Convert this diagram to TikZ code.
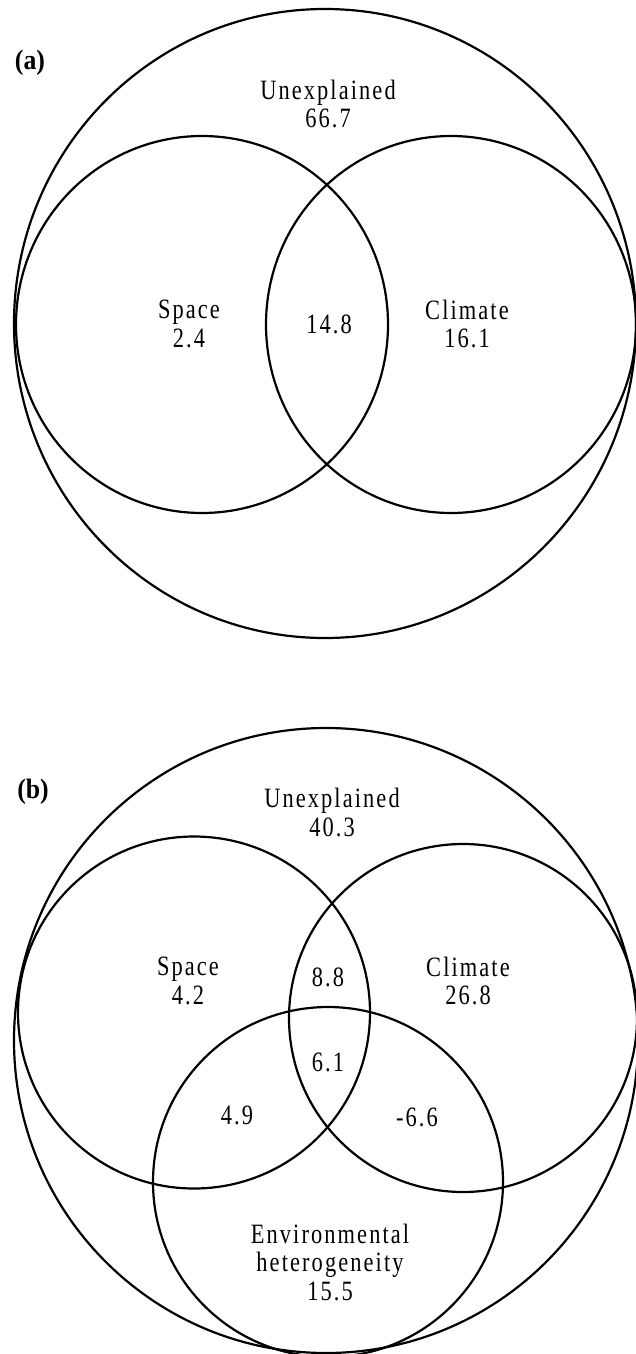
\documentclass[tikz,border=0pt]{standalone}
\usepackage{fontspec}
\setmainfont{Liberation Serif}[FakeStretch=0.8,LetterSpace=7.5]
\newfontfamily\tagfont{Liberation Serif}[FakeStretch=0.92]
\begin{document}
\begin{tikzpicture}[x=1pt,y=-1pt,
  venn/.style={line width=2.2pt},
  lbl/.style={font=\fontsize{28}{28.5}\selectfont, align=center, inner sep=0pt},
  tag/.style={font=\tagfont\bfseries\fontsize{28}{28}\selectfont, inner sep=0pt}]
\useasboundingbox (0,0) rectangle (636,1354);
% ---------- panel (a) ----------
\draw[venn] (325,323.5) ellipse [x radius=311, y radius=314.5];
\draw[venn] (202,324.5) ellipse [x radius=186, y radius=188.5];
\draw[venn] (451,324.5) ellipse [x radius=185, y radius=188.5];
\node[tag] (taga) at (30,63) {(a)};
\node[lbl] (unexa) at (328,104) {Unexplained\\66.7};
\node[lbl] (spacea) at (189,324) {Space\\2.4};
\node[lbl] (sharea) at (329,324) {14.8};
\node[lbl] (climatea) at (467,324) {Climate\\16.1};
% ---------- panel (b) ----------
\draw[venn] (326,1040.5) ellipse [x radius=312, y radius=312.5];
\draw[venn] (194,1012.5) circle [radius=176];
\draw[venn] (463,1018) circle [radius=174];
\draw[venn] (328,1182) circle [radius=175];
\node[tag] (tagb) at (33,792) {(b)};
\node[lbl] (unexb) at (332,812.5) {Unexplained\\40.3};
\node[lbl] (spaceb) at (188,981) {Space\\4.2};
\node[lbl] (scb) at (328,977) {8.8};
\node[lbl] (climateb) at (468,981) {Climate\\26.8};
\node[lbl] (allb) at (328,1062) {6.1};
\node[lbl] (seb) at (237,1115) {4.9};
\node[lbl] (ceb) at (417,1117) {-6.6};
\node[lbl] (envb) at (330,1262) {Environmental\\heterogeneity\\15.5};
\end{tikzpicture}
\end{document}
